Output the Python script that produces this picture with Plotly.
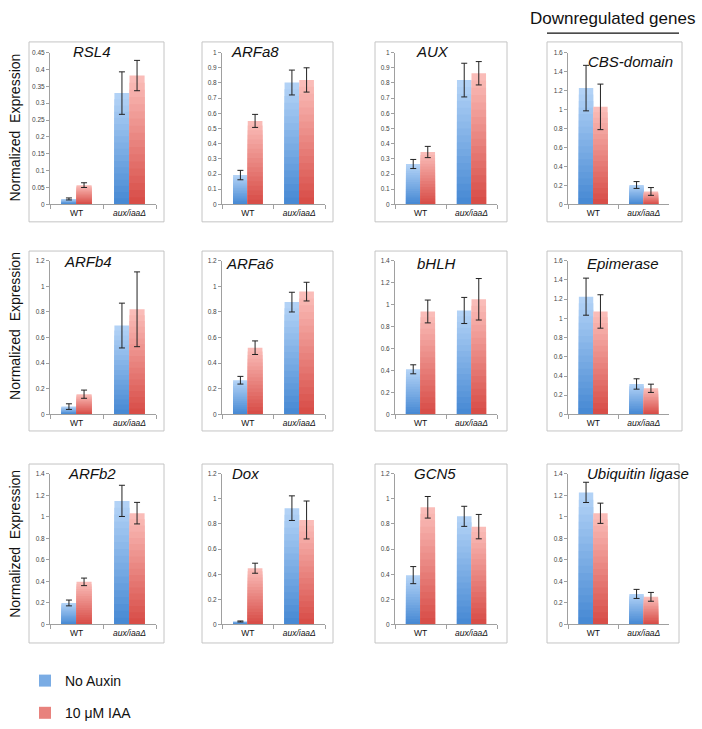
import plotly.graph_objects as go

W, H = 702, 729

# ---------------- data ----------------
genes = ["RSL4", "ARFa8", "AUX", "CBS-domain",
         "ARFb4", "ARFa6", "bHLH", "Epimerase",
         "ARFb2", "Dox", "GCN5", "Ubiquitin ligase"]
groups = ["WT", "aux/iaaΔ"]
group_labels = ["WT", "<i>aux/iaaΔ</i>"]

no_auxin = [[0.016, 0.330], [0.193, 0.803], [0.266, 0.819], [1.226, 0.204],
            [0.061, 0.694], [0.267, 0.877], [0.411, 0.947], [1.226, 0.317],
            [0.200, 1.148], [0.024, 0.926], [0.393, 0.861], [1.227, 0.284]]
no_auxin_err = [[0.003, 0.063], [0.031, 0.082], [0.030, 0.111], [0.240, 0.036],
                [0.022, 0.175], [0.030, 0.077], [0.041, 0.119], [0.193, 0.054],
                [0.027, 0.145], [0.004, 0.098], [0.068, 0.080], [0.094, 0.042]]
iaa = [[0.057, 0.382], [0.550, 0.820], [0.345, 0.864], [1.028, 0.136],
       [0.158, 0.821], [0.521, 0.959], [0.938, 1.049], [1.072, 0.272],
       [0.396, 1.034], [0.448, 0.832], [0.933, 0.779], [1.033, 0.257]]
iaa_err = [[0.007, 0.045], [0.043, 0.080], [0.037, 0.077], [0.240, 0.041],
           [0.032, 0.292], [0.053, 0.073], [0.104, 0.189], [0.174, 0.043],
           [0.035, 0.100], [0.040, 0.151], [0.086, 0.097], [0.094, 0.041]]
y_max = [0.45, 1, 1, 1.6, 1.2, 1.2, 1.4, 1.6, 1.4, 1.2, 1.2, 1.4]
y_step = [0.05, 0.1, 0.1, 0.2, 0.2, 0.2, 0.2, 0.2, 0.2, 0.2, 0.2, 0.2]

series_names = ["No Auxin", "10 μM IAA"]

# ---------------- layout geometry (pixels) ----------------
col_plot = [(50, 156), (222, 325), (395, 497), (568, 669)]
row_plot = [(50, 206), (264, 422), (483, 638)]
col_box = [(29, 164), (202, 333), (375, 507), (547, 682)]
row_box = [(39, 224), (254, 439), (473, 657)]
title_pos = [(92, 49), (255, 49), (432, 49), (630, 59),
             (88, 265), (250, 267), (436, 267), (623, 267),
             (92, 483), (246, 483), (435, 483), (638, 483)]

BLUE_TOP, BLUE_BOT = (178, 210, 246), (72, 138, 212)
RED_TOP, RED_BOT = (250, 188, 184), (216, 78, 72)
N_LAYERS = 18
AXC = "#a0a0a0"
FONT = "Liberation Sans, Arial, sans-serif"


def px_x(p):
    return p / W


def px_y(p):
    return 1 - p / H


def mix(c1, c2, t):
    return "rgb(%d,%d,%d)" % tuple(round(a + (b - a) * t) for a, b in zip(c1, c2))


fig = go.Figure()
layout = {}
shapes = []
annotations = []

for i, gene in enumerate(genes):
    r, c = divmod(i, 4)
    sfx = "" if i == 0 else str(i + 1)
    xa, ya = "x" + sfx, "y" + sfx
    x0, x1 = col_plot[c]
    y0, y1 = row_plot[r]
    layout["xaxis" + sfx] = dict(
        domain=[px_x(x0), px_x(x1)], anchor=ya, type="category",
        categoryorder="array", categoryarray=groups,
        tickmode="array", tickvals=groups, ticktext=group_labels,
        showline=True, linecolor=AXC, linewidth=1,
        ticks="outside", tickson="boundaries", ticklen=4, tickcolor=AXC,
        tickfont=dict(size=8.5, color="#111", family=FONT),
        showgrid=False, zeroline=False, fixedrange=True)
    layout["yaxis" + sfx] = dict(
        domain=[px_y(y1), px_y(y0)], anchor=xa,
        range=[0, y_max[i]], tick0=0, dtick=y_step[i],
        showline=True, linecolor=AXC, linewidth=1,
        ticks="outside", ticklen=3, tickcolor=AXC,
        tickfont=dict(size=6.5, color="#444", family=FONT),
        showgrid=False, zeroline=False, fixedrange=True)

    for s, (vals, errs, top, bot, og) in enumerate([
            (no_auxin[i], no_auxin_err[i], BLUE_TOP, BLUE_BOT, "a"),
            (iaa[i], iaa_err[i], RED_TOP, RED_BOT, "b")]):
        for k in range(N_LAYERS):
            frac = (N_LAYERS - k) / N_LAYERS
            fig.add_trace(go.Bar(
                x=groups, y=[v * frac for v in vals],
                marker=dict(color=mix(top, bot, k / (N_LAYERS - 1)), line=dict(width=0)),
                offsetgroup=og, xaxis=xa, yaxis=ya,
                name=series_names[s], legendgroup=series_names[s],
                showlegend=(i == 0 and k == N_LAYERS // 2),
                hoverinfo="skip"))
        fig.add_trace(go.Bar(
            x=groups, y=vals, marker=dict(color="rgba(0,0,0,0)", line=dict(width=0)),
            error_y=dict(type="data", array=errs, color="#222", thickness=1, width=3),
            offsetgroup=og, xaxis=xa, yaxis=ya, showlegend=False,
            name=series_names[s]))

    bx0, bx1 = col_box[c]
    by0, by1 = row_box[r]
    if i == 11:
        bx1 = 679
    shapes.append(dict(type="rect", xref="paper", yref="paper",
                       x0=px_x(bx0), x1=px_x(bx1), y0=px_y(by1), y1=px_y(by0),
                       line=dict(color="#c4c4c4", width=1), layer="below"))
    tx, ty = title_pos[i]
    annotations.append(dict(text="<i>%s</i>" % gene, xref="paper", yref="paper",
                            x=px_x(tx), y=px_y(ty), xanchor="center", yanchor="middle",
                            showarrow=False, font=dict(size=15, color="#111", family=FONT)))

for yc in (127, 331, 555):
    annotations.append(dict(text="Normalized  Expression", xref="paper", yref="paper",
                            x=px_x(15), y=px_y(yc), xanchor="center", yanchor="middle",
                            textangle=-90, showarrow=False,
                            font=dict(size=14, color="#111", family=FONT)))

annotations.append(dict(text="Downregulated genes", xref="paper", yref="paper",
                        x=px_x(612), y=px_y(15), xanchor="center", yanchor="middle",
                        showarrow=False, font=dict(size=17, color="#111", family=FONT)))
shapes.append(dict(type="line", xref="paper", yref="paper",
                   x0=px_x(547), x1=px_x(679), y0=px_y(30), y1=px_y(30),
                   line=dict(color="#111", width=1.2)))

fig.update_layout(
    width=W, height=H, margin=dict(l=0, r=0, t=0, b=0),
    paper_bgcolor="white", plot_bgcolor="white",
    barmode="group", bargap=0.43, bargroupgap=0,
    shapes=shapes, annotations=annotations,
    showlegend=True,
    legend=dict(x=px_x(25), y=px_y(680), xanchor="left", yanchor="top",
                font=dict(size=14, color="#111", family=FONT),
                bgcolor="rgba(0,0,0,0)", tracegroupgap=11),
    **layout)

fig.write_html("out.html", config={"displayModeBar": False},
               post_script="document.body.style.margin='0px';document.body.style.overflow='hidden';")
